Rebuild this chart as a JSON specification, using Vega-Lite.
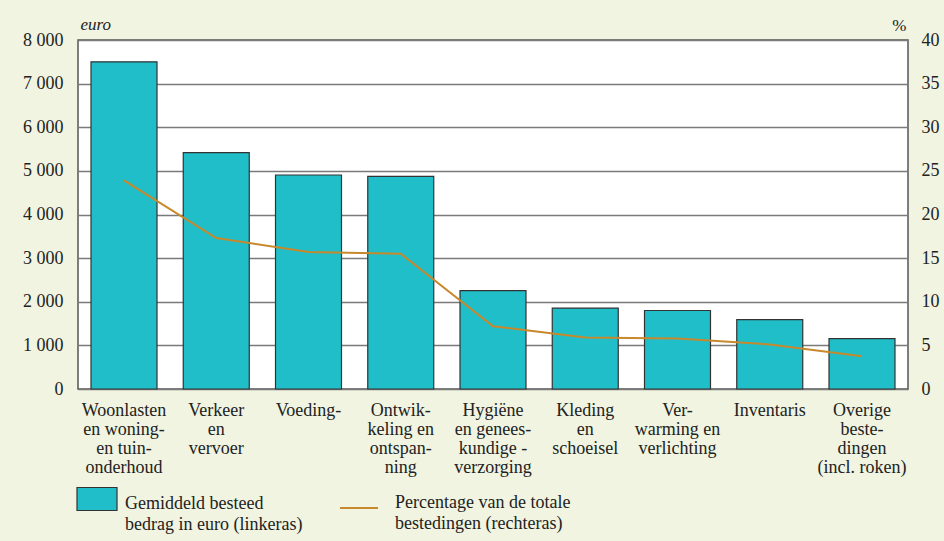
{
  "$schema": "https://vega.github.io/schema/vega-lite/v6.json",
  "width": 830,
  "height": 349,
  "autosize": {"type": "none"},
  "padding": {"left": 78, "top": 40, "right": 36, "bottom": 152},
  "background": "#f0f4e1",
  "config": {
    "view": {"fill": "white", "stroke": "#555555", "strokeWidth": 1.5},
    "font": "Liberation Serif",
    "axis": {"labelFont": "Liberation Serif", "labelColor": "#222222", "titleColor": "#222222"},
    "legend": {"labelFont": "Liberation Serif", "labelColor": "#222222"},
    "style": {"guide-label": {"lineHeight": 21}}
  },
  "data": {
    "values": [
      {"cat": "Woonlasten|en woning-|en tuin-|onderhoud", "bedrag": 7500, "pct": 23.9},
      {"cat": "Verkeer|en|vervoer", "bedrag": 5420, "pct": 17.3},
      {"cat": "Voeding-", "bedrag": 4905, "pct": 15.7},
      {"cat": "Ontwik-|keling en|ontspan-|ning", "bedrag": 4875, "pct": 15.5},
      {"cat": "Hygiëne|en  genees-|kundige -|verzorging", "bedrag": 2255, "pct": 7.2},
      {"cat": "Kleding|en|schoeisel", "bedrag": 1855, "pct": 5.9},
      {"cat": "Ver-|warming en|verlichting", "bedrag": 1800, "pct": 5.8},
      {"cat": "Inventaris", "bedrag": 1590, "pct": 5.1},
      {"cat": "Overige|beste-|dingen|(incl. roken)", "bedrag": 1155, "pct": 3.75}
    ]
  },
  "encoding": {
    "x": {
      "field": "cat",
      "type": "nominal",
      "sort": null,
      "scale": {"paddingInner": 0.2846, "paddingOuter": 0.141},
      "axis": {
        "title": null,
        "labelAngle": 0,
        "labelExpr": "split(datum.label, '|')",
        "labelFontSize": 18,
        "labelLineHeight": 19.3,
        "labelPadding": 12,
        "labelOverlap": false,
        "labelLimit": 0,
        "ticks": false,
        "domain": false
      }
    }
  },
  "layer": [
    {
      "mark": {"type": "bar", "stroke": "#333333", "strokeWidth": 1.2},
      "encoding": {
        "y": {
          "field": "bedrag",
          "type": "quantitative",
          "scale": {"domain": [0, 8000]},
          "axis": {
            "title": "euro",
            "titleAngle": 0,
            "titleAlign": "left",
            "titleBaseline": "alphabetic",
            "titleX": 2,
            "titleY": -11,
            "titleFont": "Liberation Serif",
            "titleFontStyle": "italic",
            "titleFontWeight": "normal",
            "titleFontSize": 17,
            "values": [0, 1000, 2000, 3000, 4000, 5000, 6000, 7000, 8000],
            "labelExpr": "replace(format(datum.value, ','), ',', ' ')",
            "labelFontSize": 18,
            "labelPadding": 15,
            "ticks": false,
            "domain": false,
            "grid": true,
            "gridColor": "#7a7a7a",
            "gridWidth": 1.5
          }
        },
        "fill": {
          "datum": "Gemiddeld besteed|bedrag in euro (linkeras)",
          "type": "nominal",
          "scale": {"range": ["#20bec8"]},
          "legend": {
            "title": null,
            "orient": "none",
            "legendX": -2,
            "legendY": 434,
            "symbolType": "M-1,-0.375H1V0.775H-1Z",
            "symbolSize": 1600,
            "symbolStrokeColor": "#333333",
            "symbolStrokeWidth": 1.2,
            "symbolOpacity": 1,
            "labelExpr": "split(datum.label, '|')",
            "labelFontSize": 18,
            "labelOffset": 7,
            "labelLimit": 0,
            "labelBaseline": "top"
          }
        }
      }
    },
    {
      "mark": {"type": "line", "strokeWidth": 2},
      "encoding": {
        "y": {
          "field": "pct",
          "type": "quantitative",
          "scale": {"domain": [0, 40]},
          "axis": {
            "orient": "right",
            "title": "%",
            "titleAngle": 0,
            "titleAlign": "right",
            "titleBaseline": "alphabetic",
            "titleX": -2,
            "titleY": -10,
            "titleFont": "Liberation Serif",
            "titleFontWeight": "normal",
            "titleFontSize": 17,
            "values": [0, 5, 10, 15, 20, 25, 30, 35, 40],
            "labelFontSize": 18,
            "labelPadding": 13,
            "ticks": false,
            "domain": false,
            "grid": false
          }
        },
        "stroke": {
          "datum": "Percentage van de totale|bestedingen (rechteras)",
          "type": "nominal",
          "scale": {"range": ["#c8882c"]},
          "legend": {
            "title": null,
            "orient": "none",
            "legendX": 261,
            "legendY": 434,
            "symbolType": "M-1,0.74H1",
            "symbolSize": 1444,
            "symbolStrokeWidth": 2,
            "labelExpr": "split(datum.label, '|')",
            "labelFontSize": 18,
            "labelOffset": 16,
            "labelLimit": 0,
            "labelBaseline": "top"
          }
        }
      }
    }
  ],
  "resolve": {"scale": {"y": "independent"}}
}
